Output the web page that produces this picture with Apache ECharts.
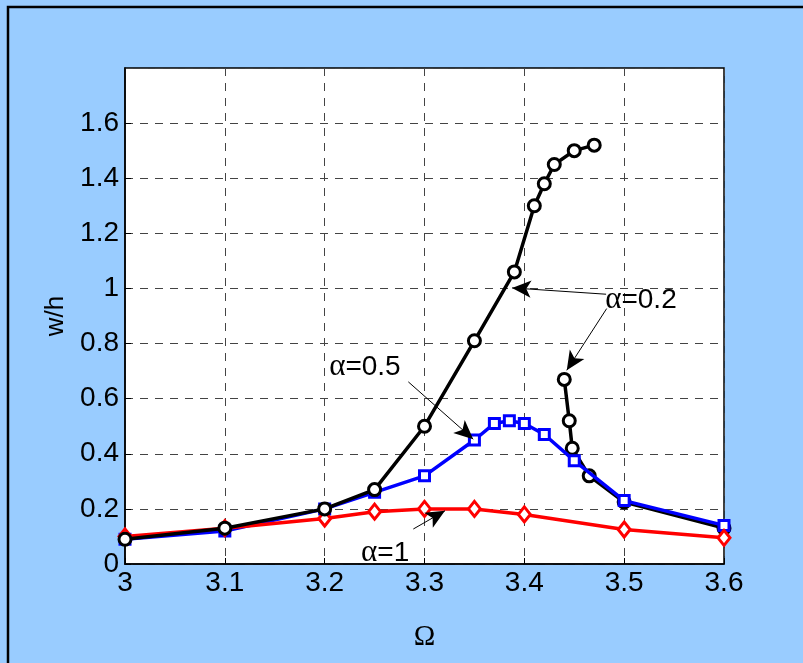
<!DOCTYPE html>
<html>
<head>
<meta charset="utf-8">
<script src="https://cdn.jsdelivr.net/npm/echarts@6/dist/echarts.min.js"></script>
<style>
  html, body { margin: 0; padding: 0; background: #99ccff; }
  #chart { width: 803px; height: 663px; }
</style>
</head>
<body>
<div id="chart"></div>
<script>
// Response amplitude w/h against excitation frequency Ω for three values of α

// α = 0.2, upper (resonant) branch
const omegaA02Upper = [3.0, 3.1, 3.2, 3.25, 3.3, 3.35, 3.39, 3.41, 3.42, 3.43, 3.45, 3.47];
const whA02Upper    = [0.09, 0.13, 0.20, 0.27, 0.50, 0.81, 1.06, 1.30, 1.38, 1.45, 1.50, 1.52];
// α = 0.2, lower branch
const omegaA02Lower = [3.44, 3.445, 3.448, 3.465, 3.5, 3.6];
const whA02Lower    = [0.67, 0.52, 0.42, 0.32, 0.225, 0.13];
// α = 0.5
const omegaA05 = [3.0, 3.1, 3.2, 3.25, 3.3, 3.35, 3.37, 3.385, 3.4, 3.42, 3.45, 3.5, 3.6];
const whA05    = [0.09, 0.12, 0.20, 0.26, 0.32, 0.45, 0.51, 0.52, 0.51, 0.47, 0.375, 0.23, 0.14];
// α = 1
const omegaA1 = [3.0, 3.1, 3.2, 3.25, 3.3, 3.35, 3.4, 3.5, 3.6];
const whA1    = [0.10, 0.13, 0.165, 0.19, 0.20, 0.20, 0.18, 0.125, 0.095];

// axis ticks
const xTicks = [3, 3.1, 3.2, 3.3, 3.4, 3.5, 3.6];
const yTicks = [0, 0.2, 0.4, 0.6, 0.8, 1, 1.2, 1.4, 1.6];

// annotation labels and arrows, in data coordinates
const labelTexts  = ['α=0.2', 'α=0.5', 'α=1'];
const labelAnchor = [[3.481, 0.957], [3.2045, 0.714], [3.2365, 0.04]];
const arrowFrom = [[3.4819, 0.979], [3.4825, 0.927], [3.2838, 0.661], [3.2888, 0.127]];
const arrowTo   = [[3.3877, 1.002], [3.4425, 0.703], [3.3488, 0.453], [3.3205, 0.193]];

const zip = (xs, ys) => xs.map((x, i) => [x, ys[i]]);
const fmt = v => String(+v.toFixed(2));

const chart = echarts.init(document.getElementById('chart'), null, { renderer: 'canvas' });

const sansFont = 'Liberation Sans, Arial, Helvetica, sans-serif';
const serifFont = 'Liberation Serif, Times New Roman, serif';

// hollow markers: white fill with a thick coloured outline
function lineSeries(name, data, color, symbol, size, z) {
  return {
    name, type: 'line', data, z,
    symbol, symbolSize: size, showSymbol: true,
    lineStyle: { color, width: 3.5 },
    itemStyle: { color: '#ffffff', borderColor: color, borderWidth: 3 },
    emphasis: { disabled: true },
    animation: false
  };
}

const option = {
  backgroundColor: '#99ccff',
  animation: false,
  grid: {
    left: 125, top: 68, right: 79, bottom: 99,
    show: true, backgroundColor: '#ffffff', borderColor: '#000', borderWidth: 1.5
  },
  xAxis: {
    type: 'value', min: 3, max: 3.6, interval: 0.1,
    name: 'Ω', nameLocation: 'middle', nameGap: 59,
    nameTextStyle: { fontFamily: serifFont, fontSize: 29, color: '#000' },
    axisLine: { show: true, onZero: false, lineStyle: { color: '#000', width: 1.5 } },
    axisTick: { show: true, inside: true, length: 6, lineStyle: { color: '#000' } },
    axisLabel: { fontFamily: sansFont, fontSize: 28, color: '#000', margin: 5,
                 formatter: v => xTicks.includes(+v.toFixed(2)) ? fmt(v) : '' },
    splitLine: { show: true, lineStyle: { color: '#444', type: [8, 7], width: 1 } }
  },
  yAxis: {
    type: 'value', min: 0, max: 1.8, interval: 0.2,
    name: 'w/h', nameLocation: 'middle', nameGap: 55, nameRotate: 90,
    nameTextStyle: { fontFamily: sansFont, fontSize: 26, color: '#000' },
    axisLine: { show: true, onZero: false, lineStyle: { color: '#000', width: 1.5 } },
    axisTick: { show: true, inside: true, length: 6, lineStyle: { color: '#000' } },
    axisLabel: { fontFamily: sansFont, fontSize: 28, color: '#000', margin: 6,
                 showMaxLabel: false,
                 formatter: v => yTicks.includes(+v.toFixed(2)) ? fmt(v) : '' },
    splitLine: { show: true, lineStyle: { color: '#444', type: [8, 7], width: 1 } }
  },
  series: [
    lineSeries('α=0.2 lower', zip(omegaA02Lower, whA02Lower), '#000', 'circle', 12, 2),
    lineSeries('α=0.5', zip(omegaA05, whA05), '#0000ff', 'rect', 10, 3),
    lineSeries('α=1', zip(omegaA1, whA1), '#ff0000', 'diamond', [12, 15], 4),
    lineSeries('α=0.2 upper', zip(omegaA02Upper, whA02Upper), '#000', 'circle', 12, 5),
    {
      name: 'notes', type: 'line', data: [], z: 6, silent: true,
      markLine: {
        silent: true, animation: false,
        symbol: ['none', 'arrow'], symbolSize: [13, 19],
        label: { show: false },
        lineStyle: { color: '#000', width: 1, type: 'solid' },
        emphasis: { disabled: true },
        data: arrowFrom.map((p, i) => [{ coord: p }, { coord: arrowTo[i] }])
      }
    }
  ]
};

chart.setOption(option);

// text labels positioned from data coordinates
const labelGraphics = labelTexts.map((t, i) => {
  const [px, py] = chart.convertToPixel({ gridIndex: 0 }, labelAnchor[i]);
  const parts = t.split('α');
  return {
    type: 'text', x: px, y: py, z: 10, silent: true,
    style: {
      text: '{a|α}{b|' + parts[1] + '}',
      verticalAlign: 'middle', align: 'left',
      rich: {
        a: { fontFamily: serifFont, fontSize: 31, fill: '#000' },
        b: { fontFamily: sansFont, fontSize: 28, fill: '#000' }
      }
    }
  };
});

chart.setOption({
  graphic: [
    {
      type: 'rect', z: 100, silent: true,
      shape: { x: 8, y: 7, width: 820, height: 680 },
      style: { fill: 'none', stroke: '#000', lineWidth: 2.5 }
    }
  ].concat(labelGraphics)
});
</script>
</body>
</html>
